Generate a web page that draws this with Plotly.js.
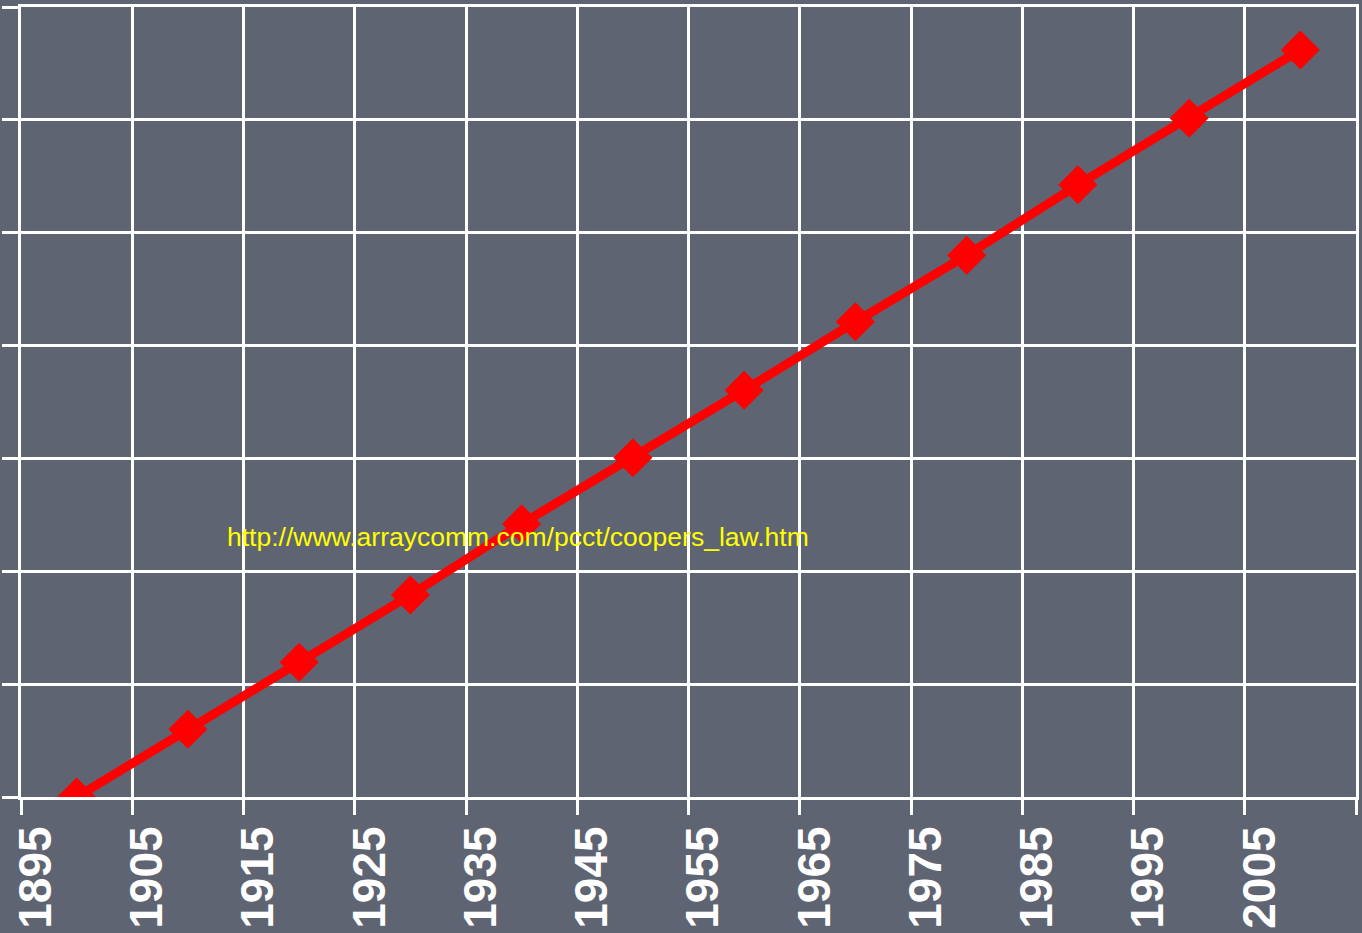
<!DOCTYPE html>
<html>
<head>
<meta charset="utf-8">
<script src="https://cdn.plot.ly/plotly-3.0.1.min.js"></script>
<style>
html,body{margin:0;padding:0;background:#5f6472;overflow:hidden;}
#chart{width:1362px;height:933px;}
</style>
</head>
<body>
<div id="chart"></div>
<script>
// Years and log10-scale capacity values (Cooper's law)
const years = [1900, 1910, 1920, 1930, 1940, 1950, 1960, 1970, 1980, 1990, 2000, 2010];
const logCapacity = [0, 1.2, 2.39, 3.58, 4.84, 6.01, 7.21, 8.42, 9.6, 10.85, 12.03, 13.24];
const xTickVals = [1895, 1905, 1915, 1925, 1935, 1945, 1955, 1965, 1975, 1985, 1995, 2005, 2015];
const xTickText = ['1895', '1905', '1915', '1925', '1935', '1945', '1955', '1965', '1975', '1985', '1995', '2005', ''];
const yTickVals = [0, 2, 4, 6, 8, 10, 12, 14];
const sourceText = 'http://www.arraycomm.com/pcct/coopers_law.htm';

const trace = {
  x: years,
  y: logCapacity,
  mode: 'lines+markers',
  type: 'scatter',
  line: {color: '#ff0000', width: 9},
  marker: {symbol: 'diamond', size: 30, color: '#ff0000'},
  hoverinfo: 'skip'
};

const layout = {
  width: 1362,
  height: 933,
  margin: {l: 21, r: 6, t: 7, b: 136, pad: 0},
  paper_bgcolor: '#5f6472',
  plot_bgcolor: '#5f6472',
  showlegend: false,
  font: {family: 'Liberation Sans, Arial, sans-serif', color: '#ffffff'},
  xaxis: {
    range: [1895, 2015],
    tickmode: 'array',
    tickvals: xTickVals,
    ticktext: xTickText,
    tickangle: -90,
    tickfont: {size: 46, color: '#ffffff', family: 'Liberation Sans, Arial, sans-serif', weight: 'bold'},
    ticks: 'outside',
    ticklen: 15,
    tickwidth: 3,
    tickcolor: '#ffffff',
    ticklabelshift: 15,
    ticklabelstandoff: -7,
    showgrid: true,
    gridcolor: '#ffffff',
    gridwidth: 3,
    showline: true,
    linecolor: '#ffffff',
    linewidth: 3,
    mirror: true,
    zeroline: false,
    fixedrange: true
  },
  yaxis: {
    range: [0, 14],
    tickmode: 'array',
    tickvals: yTickVals,
    showticklabels: false,
    ticks: 'outside',
    ticklen: 16,
    tickwidth: 3,
    tickcolor: '#ffffff',
    showgrid: true,
    gridcolor: '#ffffff',
    gridwidth: 3,
    showline: true,
    linecolor: '#ffffff',
    linewidth: 3,
    mirror: true,
    zeroline: false,
    fixedrange: true
  },
  annotations: [{
    text: sourceText,
    xref: 'paper', yref: 'paper',
    x: 0.153, y: 0.329,
    xanchor: 'left', yanchor: 'middle',
    showarrow: false,
    font: {size: 26.5, color: '#ffff00', family: 'Liberation Sans, Arial, sans-serif'}
  }]
};

Plotly.newPlot('chart', [trace], layout, {displayModeBar: false, staticPlot: true});
</script>
</body>
</html>
